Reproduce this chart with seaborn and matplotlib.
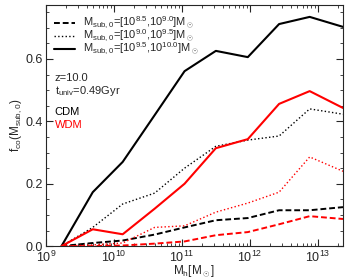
import numpy as np
import pandas as pd
import seaborn as sns
import matplotlib.pyplot as plt

# halo mass bins (log10 Mh)
log_mh = [9.23, 9.69, 10.13, 10.60, 11.04, 11.50, 11.97, 12.43, 12.88, 13.37]

# f_co for each subhalo mass bin, CDM and WDM
cdm_85 = [0.0, 0.010, 0.018, 0.037, 0.060, 0.083, 0.090, 0.115, 0.115, 0.125]
cdm_90 = [0.0, 0.060, 0.135, 0.170, 0.250, 0.320, 0.340, 0.353, 0.440, 0.423]
cdm_95 = [0.0, 0.173, 0.270, 0.420, 0.561, 0.626, 0.606, 0.712, 0.735, 0.703]
wdm_85 = [0.0, 0.0, 0.002, 0.008, 0.015, 0.035, 0.045, 0.070, 0.096, 0.087]
wdm_90 = [0.0, 0.004, 0.010, 0.060, 0.065, 0.109, 0.138, 0.173, 0.286, 0.240]
wdm_95 = [0.0, 0.054, 0.038, 0.120, 0.200, 0.314, 0.343, 0.456, 0.497, 0.443]

labels = [r'M$_{\rm sub,0}$=[10$^{8.5}$,10$^{9.0}$]M$_\odot$',
          r'M$_{\rm sub,0}$=[10$^{9.0}$,10$^{9.5}$]M$_\odot$',
          r'M$_{\rm sub,0}$=[10$^{9.5}$,10$^{10.0}$]M$_\odot$']

sns.set_style('ticks')
plt.rcParams['font.family'] = ['Liberation Sans', 'DejaVu Sans']
plt.rcParams['mathtext.fontset'] = 'custom'
plt.rcParams['mathtext.rm'] = 'Liberation Sans'
plt.rcParams['mathtext.it'] = 'Liberation Sans:italic'

fig = plt.figure(figsize=(3.5, 2.8), dpi=100)
ax = fig.add_axes([0.131, 0.121, 0.849, 0.861])

mh = 10 ** np.array(log_mh)
styles = [((0, (3, 1.5)), 1.4), (':', 1.0), ('-', 1.5)]

for vals, (ls, lw), lab in zip([cdm_85, cdm_90, cdm_95], styles, labels):
    df = pd.DataFrame({'mh': mh, 'f': vals})
    sns.lineplot(data=df, x='mh', y='f', color='black', linestyle=ls,
                 linewidth=lw, label=lab, ax=ax)
for vals, (ls, lw) in zip([wdm_85, wdm_90, wdm_95], styles):
    df = pd.DataFrame({'mh': mh, 'f': vals})
    sns.lineplot(data=df, x='mh', y='f', color='red', linestyle=ls,
                 linewidth=lw, ax=ax)

ax.set_xscale('log')
ax.set_xlim(1e9, 10 ** 13.37)
ax.set_ylim(0, 0.773)
ax.set_yticks([0.0, 0.2, 0.4, 0.6])
ax.set_yticklabels(['0.0', '0.2', '0.4', '0.6'], va='center_baseline')
ax.set_yticks(np.arange(0, 0.77, 0.05), minor=True)
ax.tick_params(which='both', direction='in', top=True, right=True, labelsize=9, pad=2)
ax.tick_params(axis='x', which='both', pad=2.5)
ax.tick_params(which='major', length=5, width=0.8)
ax.tick_params(which='minor', length=2.5, width=0.6)
for s in ax.spines.values():
    s.set_linewidth(0.8)

ax.set_xlabel(r'M$_{\rm h}$[M$_\odot$]', fontsize=8.5, labelpad=-1)
ax.set_ylabel(r'f$_{\rm co}$(M$_{\rm sub,0}$)', fontsize=8.5, labelpad=1)

leg = ax.legend(loc='upper left', frameon=False, fontsize=8, handlelength=1.9,
                handletextpad=0.7, labelspacing=-0.28, borderaxespad=0.3,
                bbox_to_anchor=(0.0, 0.99))

ax.text(0.03, 0.685, 'z=10.0', transform=ax.transAxes, fontsize=8)
ax.text(0.03, 0.63, r't$_{\rm univ}$=0.49Gyr', transform=ax.transAxes, fontsize=8)
ax.text(0.03, 0.545, 'CDM', transform=ax.transAxes, fontsize=8, color='black')
ax.text(0.03, 0.49, 'WDM', transform=ax.transAxes, fontsize=8, color='red')

fig.savefig('out.png', dpi=100)
